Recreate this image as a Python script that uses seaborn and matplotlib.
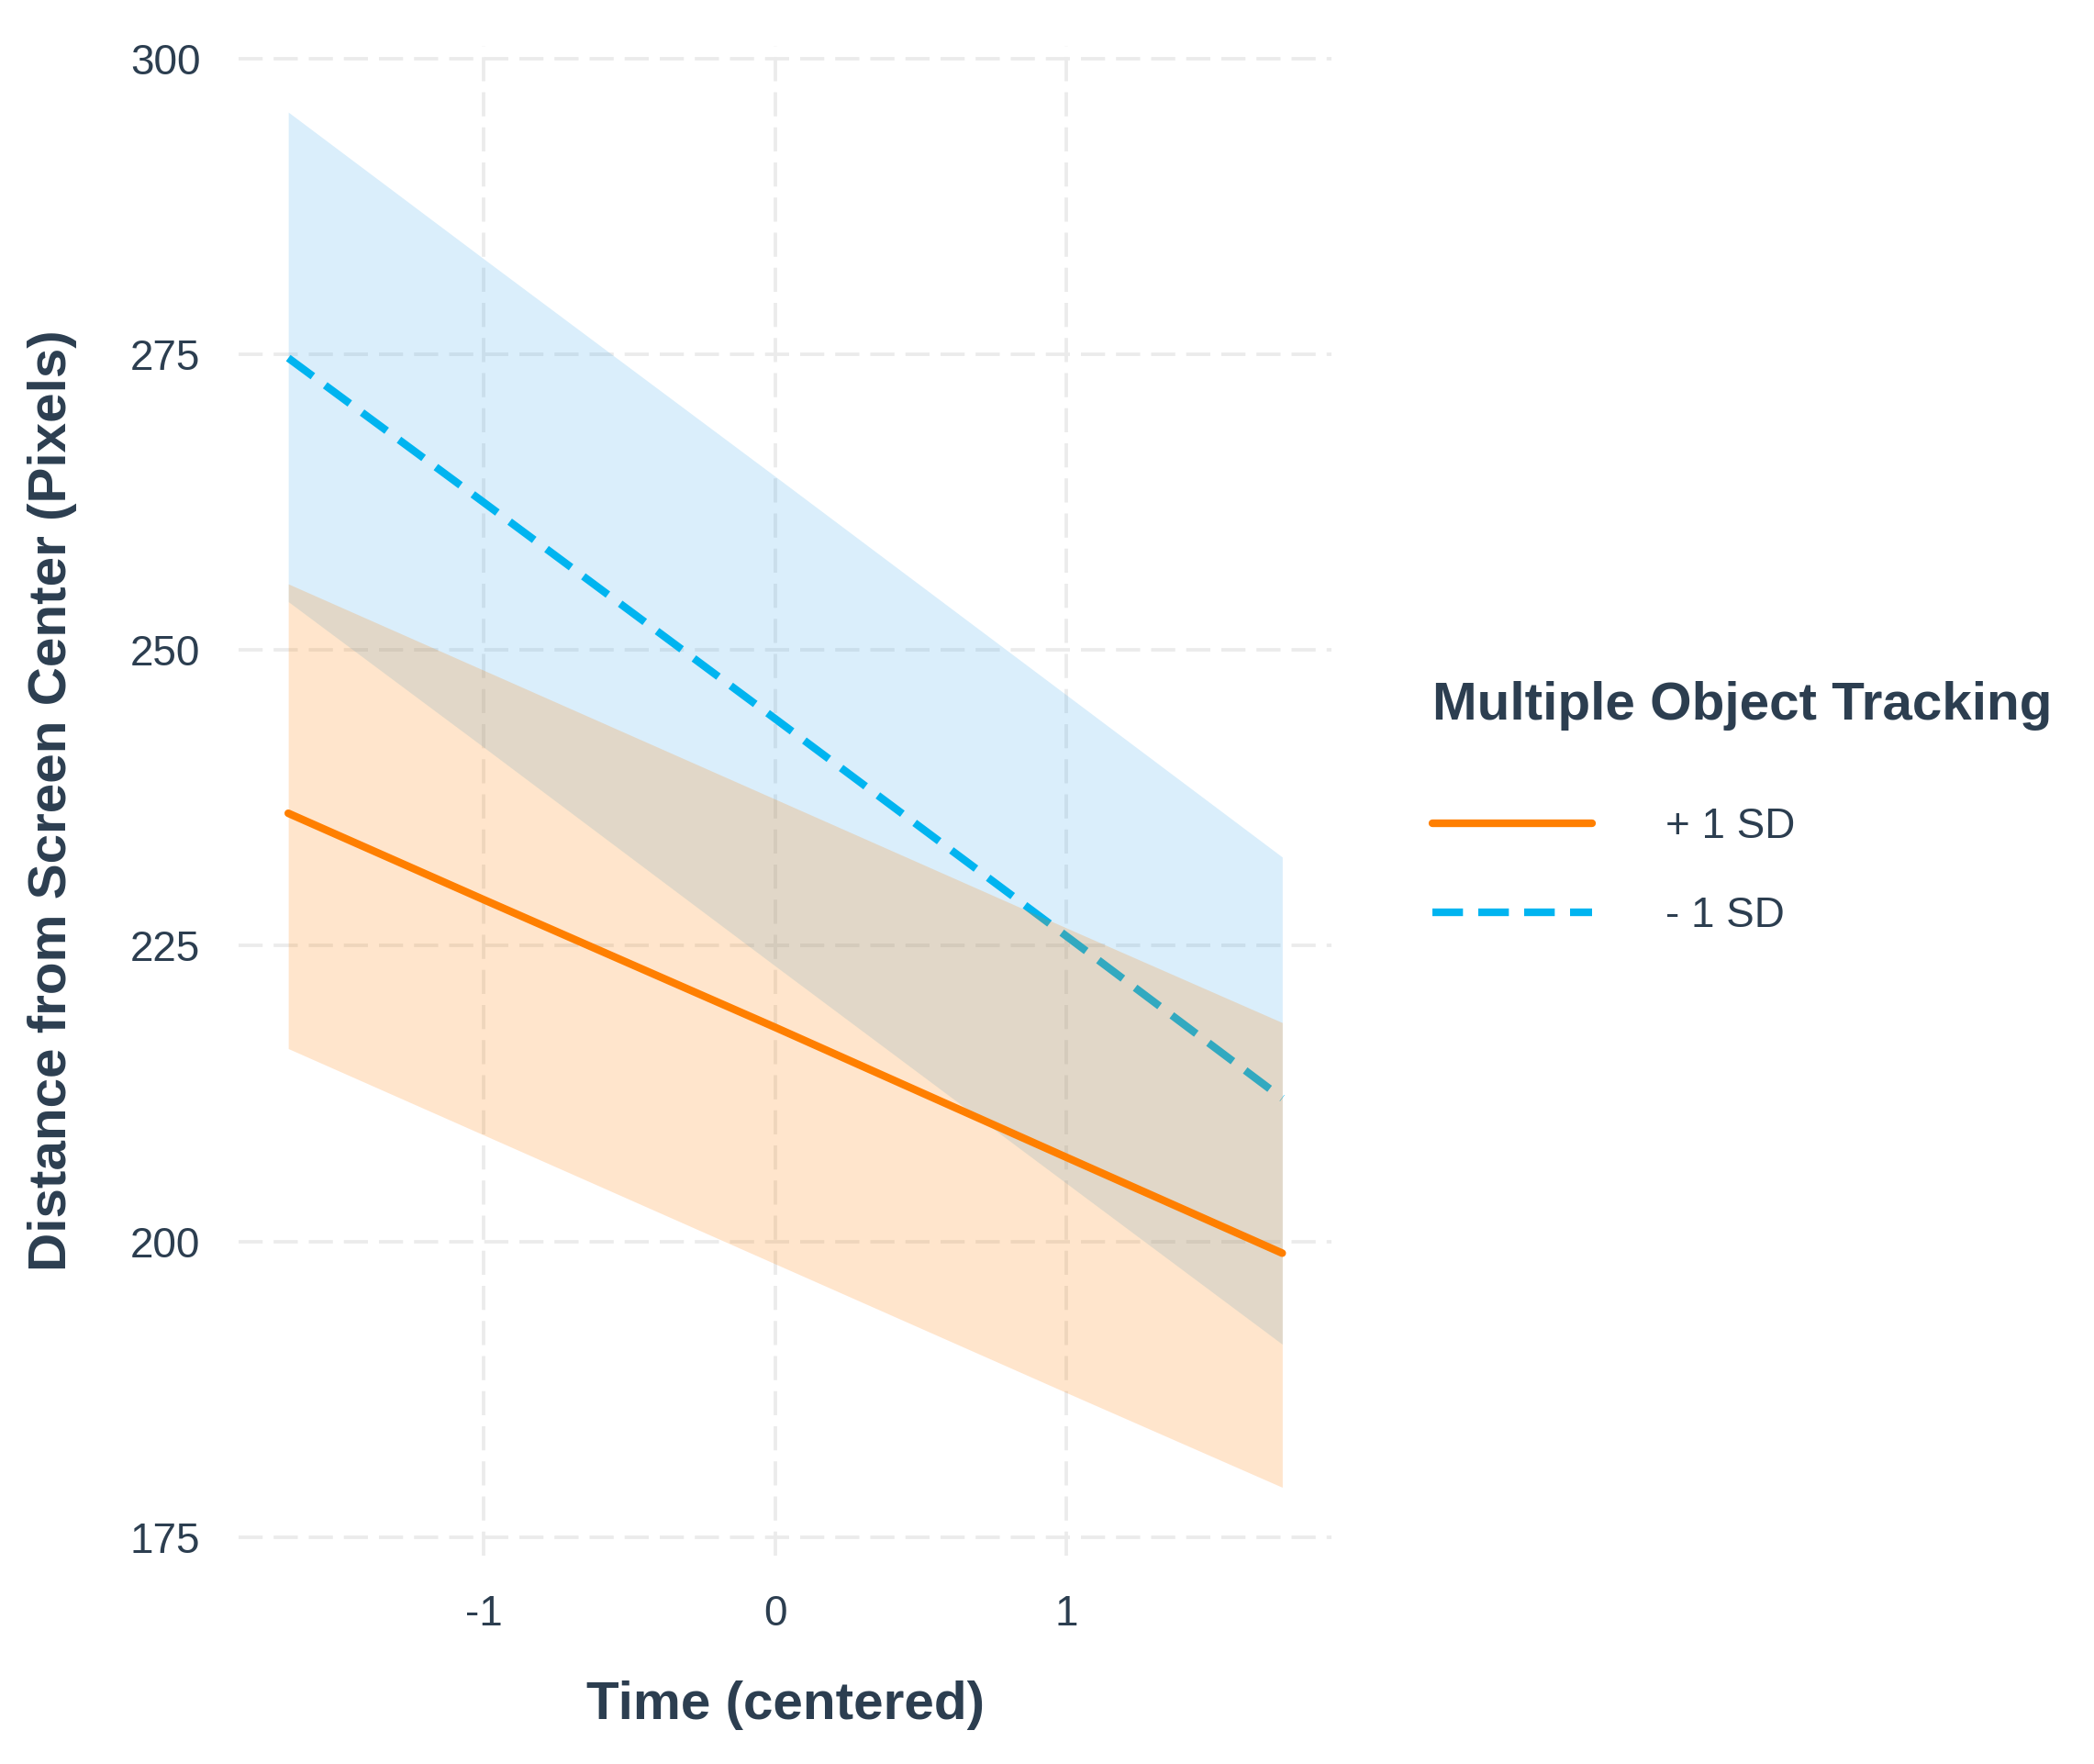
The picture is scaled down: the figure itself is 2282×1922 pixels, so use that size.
import numpy as np
import pandas as pd
import seaborn as sns
import matplotlib.pyplot as plt
from matplotlib.lines import Line2D

# values (time, fitted value, CI band)
time = [-1.67, -1.0, 0.0, 1.0, 1.74]
groups = ['+ 1 SD', '- 1 SD']

plus_fit = [236.2, 228.9, 218.1, 207.1, 199.0]
plus_lo = [216.3, 209.0, 198.1, 187.2, 179.2]
plus_hi = [255.6, 248.3, 237.4, 226.5, 218.5]

minus_fit = [274.7, 262.5, 244.2, 225.8, 212.1]
minus_lo = [254.1, 241.8, 223.3, 204.9, 191.3]
minus_hi = [295.5, 283.1, 264.7, 246.2, 232.5]

yticks = [175, 200, 225, 250, 275, 300]
xticks = [-1, 0, 1]

df = pd.concat([
    pd.DataFrame({'time': time, 'fit': plus_fit, 'lo': plus_lo, 'hi': plus_hi, 'group': '+ 1 SD'}),
    pd.DataFrame({'time': time, 'fit': minus_fit, 'lo': minus_lo, 'hi': minus_hi, 'group': '- 1 SD'}),
])

colors = {'+ 1 SD': '#FF7F00', '- 1 SD': '#00B4F0'}
fills = {'+ 1 SD': '#FF7F00', '- 1 SD': '#46AAEB'}
styles = {'+ 1 SD': '-', '- 1 SD': (0, (4, 2))}
txt = '#2C3E50'

sns.set_theme(style='white')
plt.rcParams['font.family'] = ['Liberation Sans', 'DejaVu Sans']
plt.rcParams['axes.unicode_minus'] = False

fig = plt.figure(figsize=(2282 / 300, 1922 / 300), dpi=300)
ax = fig.add_axes([0.114, 0.118, 0.522, 0.856])

# blue group first so the orange ribbon sits on top of the blue line
z = 2
for g in ['- 1 SD', '+ 1 SD']:
    sub = df[df['group'] == g]
    ax.fill_between(sub['time'], sub['lo'], sub['hi'], color=fills[g], alpha=0.2,
                    linewidth=0, zorder=z)
    sns.lineplot(data=sub, x='time', y='fit', ax=ax, color=colors[g],
                 linestyle=styles[g], linewidth=2.0, legend=False, zorder=z + 1)
    z += 2

ax.set_xlim(-1.84, 1.91)
ax.set_ylim(173.4, 301.1)
ax.set_xticks(xticks)
ax.set_yticks(yticks)
ax.grid(True, color='#EBEBEB', linewidth=0.9, linestyle=(0, (7, 3.2)))
ax.set_axisbelow(True)
for s in ax.spines.values():
    s.set_visible(False)
ax.tick_params(length=0, labelsize=11, labelcolor=txt, pad=10)

ax.set_xlabel('Time (centered)', fontsize=14, fontweight='bold', color=txt, labelpad=12)
ax.set_ylabel('Distance from Screen Center (Pixels)', fontsize=14, fontweight='bold',
              color=txt, labelpad=14)

handles = [Line2D([0], [0], color=colors[g], linestyle=styles[g], linewidth=2.0) for g in groups]
leg = ax.legend(handles, groups, title='Multiple Object Tracking', loc='upper left',
                bbox_to_anchor=(0.684, 0.614), bbox_transform=fig.transFigure,
                frameon=False, fontsize=11, title_fontsize=14, handlelength=3.8,
                handletextpad=1.75, labelspacing=1.15, borderpad=0, borderaxespad=0,
                alignment='left')
leg.get_title().set_fontweight('bold')
leg.get_title().set_color(txt)
for t in leg.get_texts():
    t.set_color(txt)
leg._legend_box.sep = 20

fig.savefig('out.png', dpi=300)
